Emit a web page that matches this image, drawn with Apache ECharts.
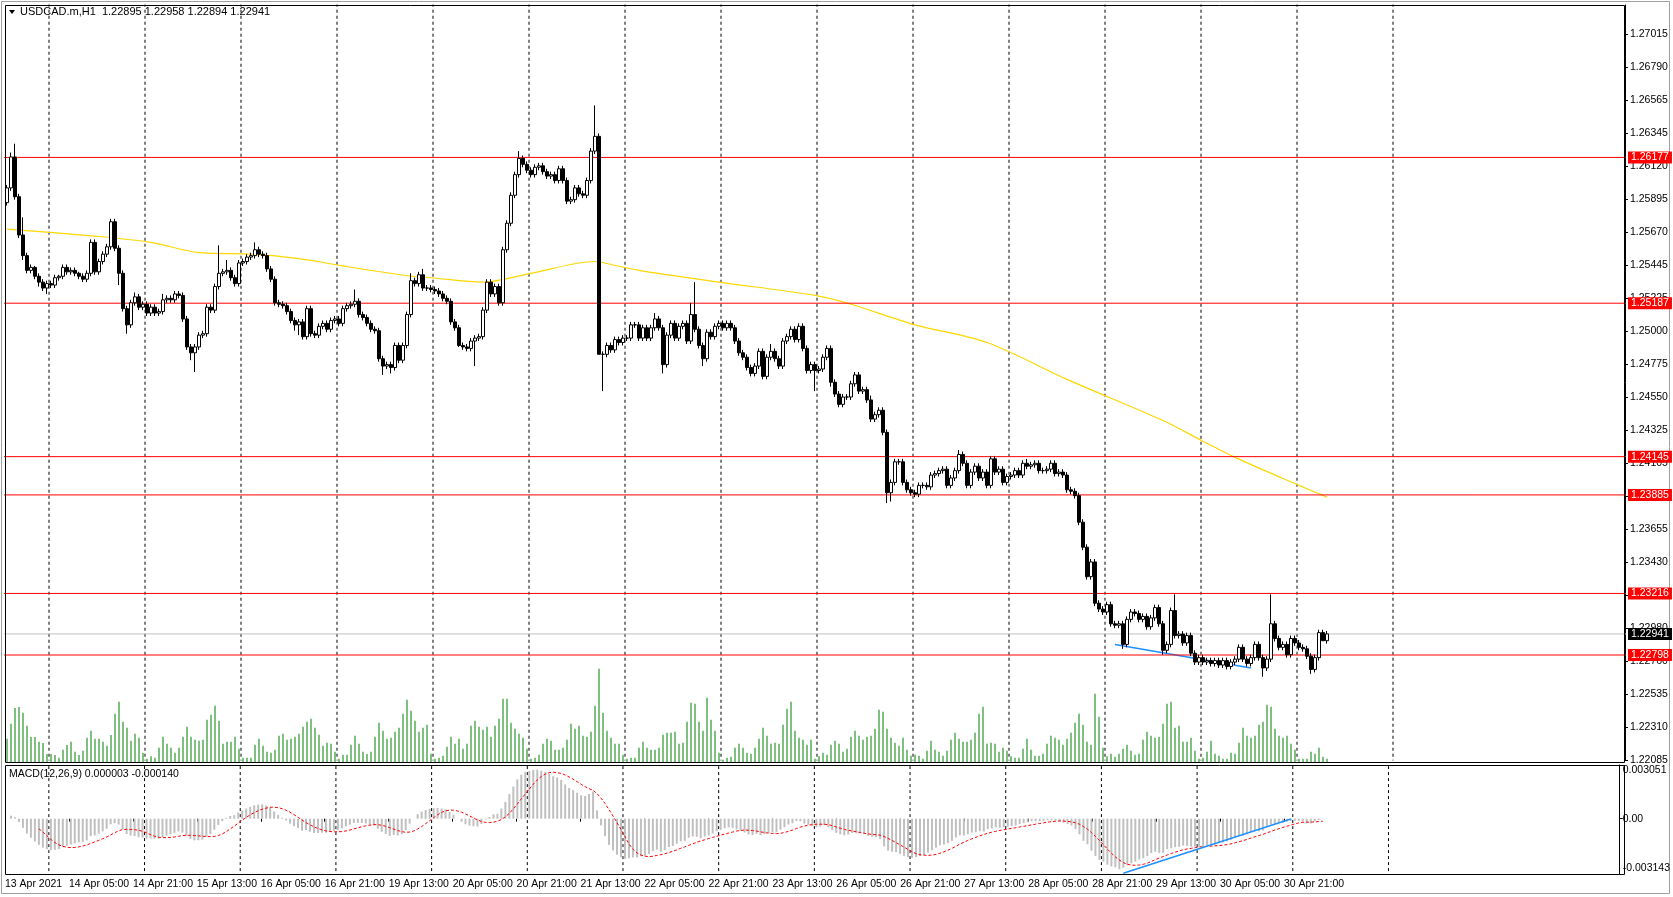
<!DOCTYPE html>
<html><head><meta charset="utf-8">
<script src="https://cdn.jsdelivr.net/npm/echarts@6/dist/echarts.min.js"></script>
<style>html,body{margin:0;padding:0;background:#fff}#c{width:1673px;height:897px}</style>
</head><body><div id="c"></div>
<script>
const timeLabels = ['13 Apr 2021','14 Apr 05:00','14 Apr 21:00','15 Apr 13:00','16 Apr 05:00','16 Apr 21:00','19 Apr 13:00','20 Apr 05:00','20 Apr 21:00','21 Apr 13:00','22 Apr 05:00','22 Apr 21:00','23 Apr 13:00','26 Apr 05:00','26 Apr 21:00','27 Apr 13:00','28 Apr 05:00','28 Apr 21:00','29 Apr 13:00','30 Apr 05:00','30 Apr 21:00'];
const priceTicks = ['1.22085','1.22310','1.22535','1.22760','1.22980','1.23205','1.23430','1.23655','1.23880','1.24105','1.24325','1.24550','1.24775','1.25000','1.25225','1.25445','1.25670','1.25895','1.26120','1.26345','1.26565','1.26790','1.27015'];
const firstOpen = 1.2587;
const closes = [
1.2597,1.2618,1.2591,1.2565,1.2551,1.2541,1.2543,1.2537,1.2533,1.2529,1.2532,1.2531,1.2536,1.2537,1.2543,1.2540,1.2541,1.2539,1.2537,1.2535,
1.2539,1.2560,1.2540,1.2547,1.2552,1.2557,1.2574,1.2556,1.2539,1.2515,1.2504,1.2519,1.2523,1.2516,1.2518,1.2512,1.2516,1.2512,1.2513,1.2521,
1.2522,1.2521,1.2525,1.2524,1.2508,1.2489,1.2485,1.2489,1.2497,1.2498,1.2516,1.2514,1.2530,1.2539,1.2540,1.2541,1.2536,1.2532,1.2546,1.2547,
1.2550,1.2551,1.2555,1.2552,1.2551,1.2542,1.2535,1.2519,1.2518,1.2517,1.2513,1.2507,1.2504,1.2506,1.2496,1.2515,1.2498,1.2497,1.2503,1.2505,
1.2501,1.2507,1.2508,1.2505,1.2515,1.2517,1.2518,1.2520,1.2511,1.2509,1.2505,1.2501,1.2500,1.2481,1.2476,1.2477,1.2475,1.2490,1.2480,1.2490,
1.2511,1.2534,1.2532,1.2538,1.2529,1.2529,1.2528,1.2527,1.2525,1.2522,1.2520,1.2506,1.2502,1.2490,1.2489,1.2488,1.2493,1.2495,1.2496,1.2514,
1.2533,1.2525,1.2530,1.2519,1.2555,1.2573,1.2592,1.2606,1.2617,1.2613,1.2609,1.2606,1.2611,1.2612,1.2608,1.2605,1.2606,1.2602,1.2610,1.2602,
1.2588,1.2589,1.2597,1.2593,1.2592,1.2602,1.2622,1.2632,1.2484,1.2484,1.2490,1.2487,1.2494,1.2492,1.2495,1.2495,1.2504,1.2504,1.2495,1.2502,
1.2495,1.2502,1.2508,1.2502,1.2477,1.2497,1.2505,1.2495,1.2503,1.2505,1.2493,1.2511,1.2501,1.2490,1.2481,1.2499,1.2496,1.2503,1.2505,1.2502,
1.2505,1.2502,1.2493,1.2485,1.2482,1.2475,1.2471,1.2476,1.2486,1.2469,1.2482,1.2486,1.2481,1.2476,1.2493,1.2496,1.2501,1.2494,1.2503,1.2488,
1.2473,1.2477,1.2473,1.2474,1.2482,1.2488,1.2465,1.2457,1.2450,1.2455,1.2455,1.2464,1.2470,1.2459,1.2460,1.2453,1.2440,1.2443,1.2446,1.2431,
1.2390,1.2397,1.2411,1.2411,1.2397,1.2392,1.2390,1.2389,1.2395,1.2395,1.2394,1.2402,1.2403,1.2405,1.2406,1.2395,1.2400,1.2405,1.2416,1.2410,
1.2395,1.2404,1.2408,1.2400,1.2404,1.2395,1.2413,1.2404,1.2406,1.2397,1.2401,1.2402,1.2405,1.2402,1.2410,1.2408,1.2409,1.2410,1.2405,1.2405,
1.2406,1.2410,1.2403,1.2404,1.2402,1.2392,1.2391,1.2388,1.2370,1.2353,1.2333,1.2343,1.2315,1.2311,1.2309,1.2314,1.2301,1.2300,1.2301,1.2287,
1.2304,1.2309,1.2308,1.2304,1.2306,1.2299,1.2305,1.2312,1.2301,1.2283,1.2287,1.2310,1.2293,1.2294,1.2288,1.2293,1.2281,1.2275,1.2278,1.2275,
1.2276,1.2274,1.2276,1.2273,1.2276,1.2272,1.2275,1.2277,1.2285,1.2277,1.2274,1.2278,1.2287,1.2278,1.2271,1.2277,1.2301,1.2291,1.2285,1.2287,
1.2280,1.2291,1.2288,1.2285,1.2284,1.2279,1.2270,1.2278,1.2295,1.22895,1.22941];
const hiExt = [
2,3,9,2,12,2,2,1,2,2,2,2,2,1,2,2,2,2,1,2, 2,2,2,2,2,2,2,2,2,2,2,2,3,2,2,2,2,2,2,4,
2,2,2,2,2,2,2,2,2,2,2,2,2,19,2,7,2,2,2,2, 2,2,5,2,2,2,2,2,2,2,2,2,2,2,2,2,2,2,2,2,
2,2,2,2,2,2,2,8,2,2,2,2,2,2,2,2,2,2,2,2, 2,5,2,2,4,2,2,2,2,2,2,2,2,2,2,2,2,2,2,2,
2,2,2,2,2,2,2,2,5,2,2,2,2,2,2,2,2,2,2,2, 2,2,2,2,2,2,2,21,2,2,2,2,2,2,2,2,2,2,2,2,
2,2,4,2,2,2,2,2,2,2,2,8,22,2,2,2,2,2,2,2, 2,2,2,2,2,2,2,2,2,2,2,5,2,2,2,2,2,2,2,2,
2,2,2,2,2,2,2,2,2,2,2,2,2,2,2,2,3,2,2,2, 2,2,2,2,2,2,2,2,2,2,2,2,2,2,2,2,2,2,3,2,
2,2,2,2,2,2,2,2,2,2,2,2,2,2,2,3,2,2,2,2, 2,2,2,2,2,2,2,2,2,2,2,2,2,2,2,2,2,2,2,2,
2,2,2,2,2,2,2,2,2,2,2,2,11,2,2,2,2,2,2,2, 2,2,2,2,2,2,2,2,2,2,2,2,2,2,2,2,20,2,2,2,
2,2,2,2,2,2,2,2,2,2,2];
const loExt = [
2,2,2,2,3,2,2,2,3,2,4,2,2,2,2,2,2,2,2,2, 2,2,2,2,2,2,2,2,8,2,6,2,2,2,2,2,2,2,2,2,
2,2,2,2,2,2,5,13,2,2,2,2,2,2,2,2,2,2,2,2, 2,2,2,2,2,2,2,2,2,2,2,2,4,7,2,2,2,2,2,2,
2,2,2,2,2,2,2,2,2,2,2,2,2,2,6,2,4,2,2,2, 2,2,2,2,2,2,2,2,2,2,2,2,2,1,2,2,2,17,2,2,
2,2,2,2,2,2,2,2,2,2,2,2,2,2,2,2,2,2,2,2, 2,2,2,2,2,2,2,2,0,25,2,2,2,2,2,2,2,2,2,2,
2,2,2,2,6,2,2,2,2,2,2,2,2,2,5,2,2,2,2,2, 2,2,2,2,2,2,2,2,2,2,2,2,2,2,2,2,2,2,2,2,
2,2,14,2,2,2,3,2,2,2,2,2,2,2,2,2,2,2,2,2, 7,6,2,2,2,2,2,2,2,2,2,2,2,2,2,2,2,2,2,2,
2,2,2,2,2,2,2,2,2,2,2,2,2,2,2,2,2,2,2,2, 2,2,2,2,2,2,2,2,2,2,2,2,2,2,2,2,2,2,2,3,
2,2,2,2,2,2,2,2,2,3,2,2,2,2,2,2,2,2,2,2, 2,2,2,2,2,2,2,2,2,2,2,2,2,2,6,2,2,2,2,2,
2,2,2,2,2,2,3,2,2,0,2];
const volTops = [
237,192,145,142,159,198,232,232,246,250,283,283,286,294,270,256,246,276,286,273,234,213,237,237,246,258,226,162,126,186,204,243,222,234,280,297,290,294,264,231,
252,264,279,264,231,201,231,240,243,240,180,165,138,183,252,246,246,231,267,294,294,294,255,237,258,276,279,270,228,222,240,237,231,222,201,186,177,204,225,258,
249,252,276,297,285,285,255,228,252,276,283,276,231,189,213,237,234,216,204,162,120,153,183,216,204,195,282,297,294,288,261,231,252,237,267,252,198,183,201,210,
201,231,198,177,117,117,189,207,222,234,267,297,294,285,252,237,243,270,270,264,240,192,207,198,228,231,216,138,27,159,213,234,252,252,285,297,294,294,264,246,
264,270,270,264,225,219,219,
216,252,249,186,129,132,186,213,114,180,213,279,300,294,291,264,252,264,279,282,264,237,204,228,252,249,252,195,147,126,213,234,240,255,240,297,290,279,285,255,
243,252,276,267,231,213,228,240,231,228,207,150,156,207,234,249,258,234,270,288,285,288,297,273,243,270,276,288,273,240,219,237,246,246,240,219,162,141,252,249,
252,276,264,273,290,294,294,267,237,270,288,288,282,252,228,234,240,255,237,219,189,162,195,246,255,102,171,264,290,282,291,282,267,255,273,285,282,240,216,228,
234,231,192,132,126,204,198,246,246,234,273,297,294,276,243,282,288,297,297,279,282,249,204,228,234,228,195,186,135,141,207,228,234,228,252,270,297,297,297,276,
282,264,291,297];
const maPts = [[0,1.2569],[23,1.2564],[36,1.2560],[48,1.2553],[61,1.2552],[73,1.2549],[84,1.2544],[101,1.2537],[106,1.2536],[119,1.2533],[131,1.2539],[147,1.2547],[151,1.2545],[158,1.2541],[178,1.2533],[202,1.2524],[211,1.2518],[227,1.2504],[245,1.2492],[265,1.2467],[289,1.2439],[299,1.2425],[307,1.2414],[323,1.2395],[330,1.2387]];
const levels = [1.26177,1.25187,1.24145,1.23885,1.23216,1.22798];
const lastPrice = 1.22941;
const dayBounds = [10.5,34.5,58.5,82.5,106.5,130.5,154.5,178.5,202.5,226.5,250.5,274.5,298.5,322.5,346.5];
const trendMain = [[277,1.2287],[311,1.2271]];
const trendMacd = [[280,-0.0031],[322,-0.00002]];

const N = closes.length, SLOTS = 405;
const cats = []; for (let i=0;i<SLOTS;i++) cats.push(String(i));
const candles = closes.map((c,i)=>{
  const o = i===0?firstOpen:closes[i-1];
  return [o,c,Math.min(o,c)-loExt[i]*0.0001,Math.max(o,c)+hiExt[i]*0.0001];
});
const vols = volTops.slice(0,N).map(t=>Math.max(0,310-t));
function ema(a,p){const k=2/(p+1);let e=a[0];return a.map(v=>(e=v*k+e*(1-k)));}
const e12=ema(closes,12), e26=ema(closes,26);
const macd=closes.map((_,i)=>e12[i]-e26[i]);
const sig=macd.map((_,i)=>{if(i<8)return null;let s=0;for(let j=i-8;j<=i;j++)s+=macd[j];return s/9;});

const pMin=1.22085, pInt=(1.27015-1.22085)/22, pMax=pMin+755/14726;
const font='"Liberation Sans", Arial, sans-serif';
const X0=5, W=1620;
const chart=echarts.init(document.getElementById('c'),null,{renderer:'canvas'});
const xBase=(gi,show)=>({type:'category',gridIndex:gi,data:cats,boundaryGap:false,
  axisLine:{show:false},axisTick:{show:show,interval:i=>i%16===0&&i/16<timeLabels.length,lineStyle:{color:'#000'},length:3,alignWithLabel:true},
  axisLabel:{show:show,interval:i=>i%16===0&&i/16<timeLabels.length,formatter:(v,i)=>timeLabels[i/16]||'',align:'left',color:'#000',fontSize:10.5,fontFamily:font,margin:5},
  splitLine:{show:false}});
const levelSeries = levels.map(v=>({type:'line',xAxisIndex:0,yAxisIndex:0,data:[[-1,v],[SLOTS,v]],showSymbol:false,silent:true,z:2,
  lineStyle:{color:'#ff0000',width:1},
  endLabel:{show:true,formatter:v.toFixed(5),backgroundColor:'#ff0000',color:'#fff',padding:[1,3,0,3],fontSize:10.5,fontFamily:font,distance:2}}));
levelSeries.push({type:'line',xAxisIndex:0,yAxisIndex:0,data:[[-1,lastPrice],[SLOTS,lastPrice]],showSymbol:false,silent:true,z:2,
  lineStyle:{color:'#c0c0c0',width:1},
  endLabel:{show:true,formatter:lastPrice.toFixed(5),backgroundColor:'#000',color:'#fff',padding:[1,3,0,3],fontSize:10.5,fontFamily:font,distance:2}});
const sepSeries=[];
dayBounds.forEach(b=>{
  sepSeries.push({type:'line',xAxisIndex:0,yAxisIndex:0,data:[[b,pMin-0.001],[b,pMax+0.001]],showSymbol:false,silent:true,z:1,lineStyle:{color:'#000',width:1,type:[3,3]}});
  sepSeries.push({type:'line',xAxisIndex:3,yAxisIndex:1,data:[[b,-0.004],[b,0.004]],showSymbol:false,silent:true,z:1,lineStyle:{color:'#000',width:1,type:[3,3]}});
});
const hidX=gi=>({type:'value',gridIndex:gi,min:-0.5,max:SLOTS-0.5,show:false,splitLine:{show:false},axisLine:{onZero:false}});
chart.setOption({
  animation:false,
  grid:[{left:X0,top:5,width:W,height:755},{left:X0,top:765,width:W,height:109},{left:X0,top:663,width:W,height:100}],
  xAxis:[hidX(0),xBase(1,true),hidX(2),hidX(1)],
  yAxis:[
    {type:'value',gridIndex:0,position:'right',min:pMin,max:pMax,interval:pInt,
     axisLine:{show:true,onZero:false,lineStyle:{color:'#000'}},axisTick:{show:true,length:3,lineStyle:{color:'#000'}},
     axisLabel:{showMaxLabel:false,color:'#000',fontSize:10.5,fontFamily:font,margin:5,formatter:v=>{const k=Math.round((v-pMin)/pInt);return priceTicks[k]||'';}},
     splitLine:{show:false}},
    {type:'value',gridIndex:1,position:'right',min:-0.003143,max:0.003051,interval:0.003143,
     axisLine:{show:true,onZero:false,lineStyle:{color:'#000'}},axisTick:{show:true,length:3,lineStyle:{color:'#000'}},
     axisLabel:{color:'#000',fontSize:10.5,fontFamily:font,margin:3,verticalAlignMaxLabel:'top',verticalAlignMinLabel:'bottom',
       formatter:v=>v<-0.003?'-0.003143':(Math.abs(v)<1e-9?'0.00':'0.003051')},splitLine:{show:false}},
    {type:'value',gridIndex:2,min:0,max:300,show:false,axisLine:{onZero:false}}
  ],
  graphic:[
    {type:'rect',shape:{x:1.5,y:1.5,width:1668,height:892},style:{fill:null,stroke:'#a0a0a0',lineWidth:1},silent:true},
    {type:'rect',shape:{x:5.5,y:5.5,width:1619,height:757},style:{fill:null,stroke:'#000',lineWidth:1},z:10},
    {type:'rect',shape:{x:5.5,y:765.5,width:1619,height:109},style:{fill:null,stroke:'#000',lineWidth:1},z:10},
    {type:'polygon',shape:{points:[[9,10],[15,10],[12,14]]},style:{fill:'#000'},z:20},
    {type:'text',left:20,top:6,style:{text:'USDCAD.m,H1  1.22895 1.22958 1.22894 1.22941',fill:'#000',font:'11px '+font},z:20},
    {type:'text',left:9,top:769,style:{text:'MACD(12,26,9) 0.000003 -0.000140',fill:'#000',font:'10.5px '+font},z:20}
  ],
  series:[
    ...sepSeries,
    {type:'bar',xAxisIndex:2,yAxisIndex:2,data:vols.map((v,i)=>[i,v]),barWidth:1,itemStyle:{color:'#008000'},silent:true,z:1},
    {type:'line',xAxisIndex:0,yAxisIndex:0,data:maPts,showSymbol:false,smooth:0.3,lineStyle:{color:'#ffd700',width:1.2},silent:true,z:2},
    {type:'line',xAxisIndex:0,yAxisIndex:0,data:trendMain,showSymbol:false,lineStyle:{color:'#1e90ff',width:1.5},silent:true,z:2},
    ...levelSeries,
    {type:'candlestick',xAxisIndex:0,yAxisIndex:0,data:candles.map((c,i)=>[i,...c]),encode:{x:0,y:[1,2,3,4]},barWidth:3,
     itemStyle:{color:'#fff',color0:'#000',borderColor:'#000',borderColor0:'#000',borderWidth:1},z:3},
    {type:'bar',xAxisIndex:3,yAxisIndex:1,data:macd.map((v,i)=>[i,v]),barWidth:2,itemStyle:{color:'#c0c0c0'},silent:true},
    {type:'line',xAxisIndex:3,yAxisIndex:1,data:sig.map((v,i)=>[i,v]),showSymbol:false,lineStyle:{color:'#ff0000',width:1,type:[3,2]},silent:true},
    {type:'line',xAxisIndex:3,yAxisIndex:1,data:trendMacd,showSymbol:false,lineStyle:{color:'#1e90ff',width:1.5},silent:true}
  ]
});
</script></body></html>
